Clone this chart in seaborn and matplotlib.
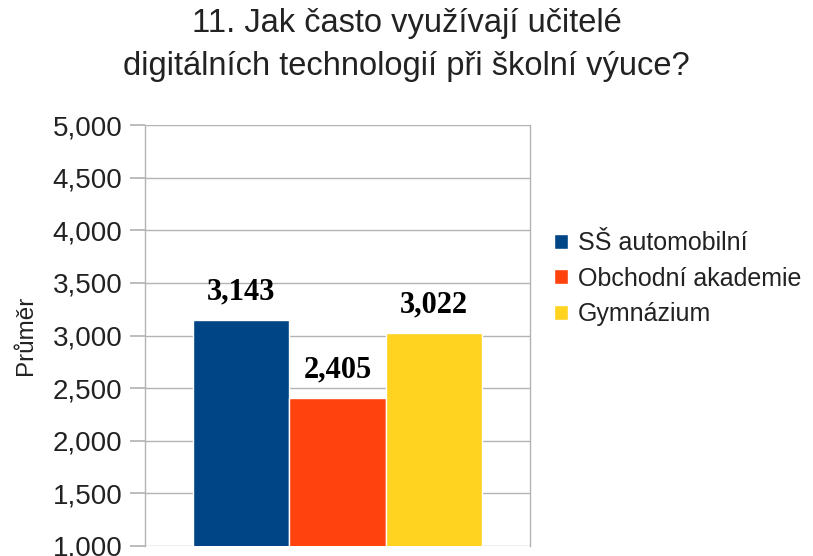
import pandas as pd
import matplotlib.pyplot as plt
import seaborn as sns
from matplotlib.ticker import FuncFormatter, MultipleLocator

sns.set_theme(style="white")
plt.rcParams['font.family'] = ['Liberation Sans', 'DejaVu Sans']

# data
skoly = ['SŠ automobilní', 'Obchodní akademie', 'Gymnázium']
prumer = [3.143, 2.405, 3.022]
barvy = ['#004586', '#ff420e', '#ffd320']

df = pd.DataFrame({'kategorie': [''] * len(skoly), 'skola': skoly, 'prumer': prumer})

fig = plt.figure(figsize=(8.13, 5.56), dpi=100)
ax = fig.add_axes([0.178, 0.018, 0.474, 0.757])

sns.barplot(data=df, x='kategorie', y='prumer', hue='skola', hue_order=skoly,
            palette=barvy, width=0.75, saturation=1, ax=ax, legend=True)

ax.set_ylim(1, 5)
ax.yaxis.set_major_locator(MultipleLocator(0.5))
ax.yaxis.set_major_formatter(FuncFormatter(lambda v, p: f"{v:.3f}".replace('.', ',')))
ax.grid(axis='y', color='#b3b3b3', linewidth=1)
ax.set_axisbelow(True)
for s in ['top', 'bottom']:
    ax.spines[s].set_visible(False)
for s in ['left', 'right']:
    ax.spines[s].set_color('#b3b3b3')
    ax.spines[s].set_linewidth(1)
ax.tick_params(axis='y', left=True, length=11, color='#b3b3b3', labelsize=20, pad=5,
               labelcolor='#222222')
ax.set_xticks([])
ax.set_xlabel('')
ax.set_ylabel('Průměr', fontsize=17.5, labelpad=11, color='#222222')

# popisky hodnot
for cont in ax.containers:
    for bar in cont:
        h = bar.get_height()
        ax.text(bar.get_x() + bar.get_width() / 2, h + 0.13, f"{h:.3f}".replace('.', ','),
                ha='center', va='bottom', fontsize=22, fontweight='bold',
                family=['Liberation Serif', 'DejaVu Serif'], color='black')

leg = ax.legend(loc='center left', bbox_to_anchor=(1.037, 0.635), frameon=False,
                fontsize=18, handlelength=0.55, handleheight=0.55, handletextpad=0.4,
                labelspacing=0.45, borderaxespad=0)
for t in leg.get_texts():
    t.set_color('#222222')

fig.text(0.5, 0.957, '11. Jak často využívají učitelé', ha='center', va='center',
         fontsize=23.5, color='#222222')
fig.text(0.5, 0.88, 'digitálních technologií při školní výuce?', ha='center', va='center',
         fontsize=23.5, color='#222222')

fig.savefig('out.png', dpi=100)
